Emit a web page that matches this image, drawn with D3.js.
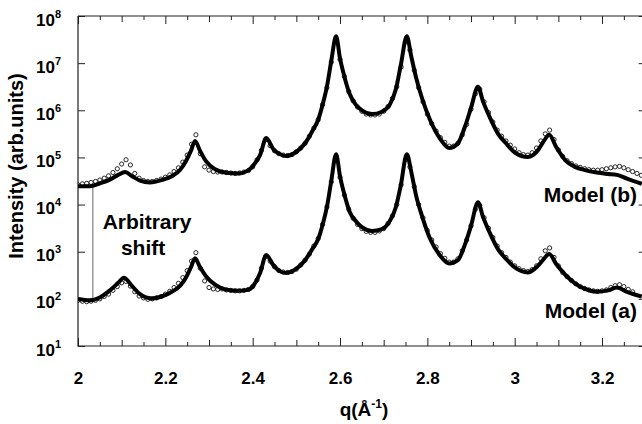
<!DOCTYPE html>
<html>
<head>
<meta charset="utf-8">
<script src="https://cdn.jsdelivr.net/npm/d3@7/dist/d3.min.js"></script>
<style>
  body { margin: 0; background: #fff; }
  text { font-family: "Liberation Sans", Arial, sans-serif; font-weight: bold; fill: #000; }
</style>
</head>
<body>
<div class="wrapper"></div>
<script>
// measured q values (Å^-1), one per data circle
var qData = [2.00,2.01,2.02,2.03,2.04,2.05,2.06,2.07,2.08,2.09,2.10,2.11,2.12,2.13,2.14,2.15,2.16,2.17,2.18,2.19,
  2.20,2.21,2.22,2.23,2.24,2.25,2.26,2.27,2.28,2.29,2.30,2.31,2.32,2.33,2.34,2.35,2.36,2.37,2.38,2.39,
  2.40,2.41,2.42,2.43,2.44,2.45,2.46,2.47,2.48,2.49,2.50,2.51,2.52,2.53,2.54,2.55,2.56,2.57,2.58,2.59,
  2.60,2.61,2.62,2.63,2.64,2.65,2.66,2.67,2.68,2.69,2.70,2.71,2.72,2.73,2.74,2.75,2.76,2.77,2.78,2.79,
  2.80,2.81,2.82,2.83,2.84,2.85,2.86,2.87,2.88,2.89,2.90,2.91,2.92,2.93,2.94,2.95,2.96,2.97,2.98,2.99,
  3.00,3.01,3.02,3.03,3.04,3.05,3.06,3.07,3.08,3.09,3.10,3.11,3.12,3.13,3.14,3.15,3.16,3.17,3.18,3.19,
  3.20,3.21,3.22,3.23,3.24,3.25,3.26,3.27,3.28,3.29];

// log10 of measured intensity, lower set (a), ends at q = 3.27
var logDataA = [1.97,1.95,1.94,1.95,1.97,2.00,2.05,2.10,2.18,2.26,2.34,2.37,2.27,2.15,2.06,2.02,1.99,2.00,2.02,2.05,
  2.10,2.16,2.24,2.33,2.45,2.60,2.80,2.98,2.65,2.38,2.24,2.21,2.20,2.21,2.19,2.18,2.17,2.17,2.18,2.20,
  2.26,2.40,2.65,2.90,2.80,2.68,2.60,2.57,2.56,2.58,2.63,2.72,2.82,2.95,3.12,3.28,3.58,3.95,4.48,5.00,
  4.58,4.20,3.90,3.71,3.58,3.49,3.43,3.41,3.41,3.44,3.49,3.60,3.76,4.00,4.42,4.95,4.80,4.38,4.00,3.72,
  3.45,3.25,3.10,2.96,2.86,2.78,2.78,2.85,3.02,3.25,3.55,3.90,3.98,3.72,3.50,3.30,3.12,2.98,2.88,2.78,
  2.70,2.64,2.60,2.58,2.62,2.70,2.85,3.02,3.08,2.88,2.70,2.56,2.47,2.39,2.32,2.26,2.22,2.19,2.17,2.16,
  2.17,2.19,2.24,2.28,2.30,2.26,2.20,2.15];

// log10 of measured intensity, shifted set (b)
var logDataB = [4.42,4.44,4.45,4.47,4.49,4.52,4.56,4.61,4.68,4.76,4.86,4.95,4.84,4.66,4.56,4.51,4.49,4.49,4.51,4.54,
  4.58,4.63,4.70,4.78,4.90,5.05,5.28,5.48,5.08,4.80,4.73,4.70,4.69,4.69,4.68,4.67,4.66,4.67,4.69,4.72,
  4.80,4.95,5.15,5.38,5.25,5.14,5.08,5.05,5.04,5.06,5.12,5.20,5.30,5.45,5.62,5.80,6.12,6.48,7.02,7.50,
  7.08,6.72,6.40,6.20,6.07,5.98,5.92,5.90,5.90,5.92,5.98,6.08,6.25,6.50,6.92,7.45,7.28,6.85,6.48,6.18,
  5.92,5.72,5.56,5.42,5.32,5.24,5.24,5.30,5.48,5.70,6.02,6.35,6.45,6.18,5.95,5.75,5.58,5.45,5.35,5.26,
  5.18,5.10,5.06,5.05,5.10,5.20,5.35,5.50,5.58,5.38,5.16,5.02,4.93,4.87,4.82,4.79,4.76,4.74,4.73,4.73,
  4.74,4.76,4.78,4.80,4.81,4.78,4.74,4.70,4.66,4.62];

// model (a) curve
var qModelA = [2.000,2.027,2.050,2.073,2.092,2.105,2.124,2.142,2.169,2.192,2.215,2.234,2.247,2.259,2.268,2.279,2.293,2.314,2.337,2.366,
  2.389,2.403,2.417,2.431,2.447,2.460,2.476,2.497,2.520,2.536,2.550,2.561,2.570,2.580,2.591,2.600,2.609,2.622,2.636,2.650,
  2.673,2.696,2.714,2.728,2.739,2.753,2.763,2.774,2.788,2.806,2.829,2.850,2.870,2.886,2.900,2.916,2.927,2.943,2.962,2.980,
  3.001,3.030,3.053,3.067,3.079,3.095,3.115,3.138,3.161,3.188,3.214,3.234,3.257,3.291];
var logModelA = [2.00,1.97,2.03,2.18,2.34,2.45,2.27,2.10,2.01,2.05,2.15,2.28,2.45,2.68,2.86,2.68,2.48,2.30,2.20,2.17,
  2.19,2.30,2.55,2.93,2.72,2.60,2.55,2.62,2.82,3.05,3.27,3.60,3.95,4.50,5.07,4.60,4.25,3.85,3.65,3.52,
  3.44,3.48,3.65,3.95,4.40,5.07,4.70,4.20,3.75,3.28,2.92,2.75,2.82,3.15,3.55,4.05,3.75,3.40,3.05,2.85,
  2.66,2.56,2.70,2.85,2.95,2.74,2.52,2.33,2.21,2.15,2.18,2.24,2.15,2.05];

// model (b) curve
var qModelB = [2.000,2.027,2.050,2.073,2.092,2.108,2.124,2.142,2.165,2.192,2.215,2.234,2.247,2.259,2.268,2.279,2.293,2.314,2.337,2.366,
  2.389,2.403,2.417,2.431,2.447,2.460,2.476,2.497,2.520,2.536,2.550,2.561,2.570,2.580,2.591,2.600,2.609,2.622,2.636,2.650,
  2.673,2.696,2.714,2.728,2.739,2.753,2.763,2.774,2.788,2.806,2.829,2.850,2.870,2.886,2.900,2.916,2.927,2.943,2.962,2.980,
  3.001,3.030,3.053,3.067,3.079,3.095,3.115,3.138,3.161,3.188,3.214,3.234,3.257,3.291];
var logModelB = [4.39,4.39,4.45,4.53,4.63,4.69,4.60,4.51,4.47,4.52,4.60,4.74,4.92,5.15,5.35,5.15,4.92,4.75,4.68,4.66,
  4.72,4.85,5.05,5.41,5.18,5.08,5.03,5.10,5.30,5.55,5.80,6.15,6.50,7.05,7.57,7.10,6.75,6.35,6.12,6.00,
  5.92,5.97,6.12,6.45,6.95,7.57,7.15,6.70,6.25,5.80,5.40,5.20,5.30,5.65,6.05,6.50,6.20,5.85,5.50,5.30,
  5.10,5.01,5.15,5.35,5.48,5.22,4.95,4.80,4.73,4.68,4.65,4.63,4.55,4.44];

var xTicks = [2, 2.2, 2.4, 2.6, 2.8, 3, 3.2];
var xTicksMid = [2.1, 2.3, 2.5, 2.7, 2.9, 3.1, 3.3];
var xTicksMinor = [2.05, 2.15, 2.25, 2.35, 2.45, 2.55, 2.65, 2.75, 2.85, 2.95, 3.05, 3.15, 3.25];
var yExponents = [1, 2, 3, 4, 5, 6, 7, 8];

// "Arbitrary shift" marker: q, lower and upper log10 intensity
var shiftQ = 2.034;
var shiftLog = [1.97, 4.40];

var W = 642, H = 424;
var x = d3.scaleLinear().domain([2, 3.3]).range([78, 645.7]);
var y = d3.scaleLog().domain([10, 1e8]).range([346, 16]);

var svg = d3.select(".wrapper").append("svg")
  .attr("width", W).attr("height", H);

function pts (qs, logs) {
  return logs.map(function (v, i) { return [qs[i], Math.pow(10, v)]; });
}

// ticks, inward on all four sides
function xAxisPair (vals, len) {
  svg.append("g").attr("transform", "translate(0,346)")
    .call(d3.axisBottom(x).tickValues(vals).tickSizeInner(-len).tickSizeOuter(0).tickFormat(""));
  svg.append("g").attr("transform", "translate(0,16)")
    .call(d3.axisTop(x).tickValues(vals).tickSizeInner(-len).tickSizeOuter(0).tickFormat(""));
}
xAxisPair(xTicksMinor, 4);
xAxisPair(xTicksMid, 6);

var bottom = svg.append("g").attr("transform", "translate(0,346)")
  .call(d3.axisBottom(x).tickValues(xTicks).tickSizeInner(-8).tickSizeOuter(0)
    .tickPadding(26).tickFormat(d3.format("~g")));
svg.append("g").attr("transform", "translate(0,16)")
  .call(d3.axisTop(x).tickValues(xTicks).tickSizeInner(-8).tickSizeOuter(0).tickFormat(""));
bottom.selectAll("text").attr("font-size", 17).attr("font-family", null);

var yVals = yExponents.map(function (e) { return Math.pow(10, e); });
var left = svg.append("g").attr("transform", "translate(78,0)")
  .call(d3.axisLeft(y).tickValues(yVals).tickSizeInner(-7).tickSizeOuter(0).tickFormat(""));
svg.append("g").attr("transform", "translate(645.7,0)")
  .call(d3.axisRight(y).tickValues(yVals).tickSizeInner(-7).tickSizeOuter(0).tickFormat(""));

var lab = left.selectAll(".tick").append("text")
  .attr("x", -42).attr("y", 9).attr("text-anchor", "start").attr("font-size", 17);
lab.append("tspan").text("10");
lab.append("tspan").attr("font-size", 11).attr("dy", -8).text(function (d) { return Math.round(Math.log10(d)); });

svg.selectAll(".domain").remove();
svg.selectAll(".tick line").attr("stroke", "#222");

// frame
svg.append("path")
  .attr("d", "M78,16H" + W + "M78,16V346H" + W)
  .attr("fill", "none").attr("stroke", "#222").attr("stroke-width", 1.2);

// axis titles
svg.append("text")
  .attr("transform", "translate(23,166) rotate(-90)")
  .attr("text-anchor", "middle").attr("font-size", 20)
  .text("Intensity (arb.units)");

var xt = svg.append("text").attr("x", 364).attr("y", 416)
  .attr("text-anchor", "middle").attr("font-size", 19);
xt.append("tspan").text("q(Å");
xt.append("tspan").attr("font-size", 12).attr("dy", -8).text("-1");
xt.append("tspan").attr("dy", 8).text(")");

// plot contents
svg.append("clipPath").attr("id", "clip")
  .append("rect").attr("x", 78).attr("y", 16).attr("width", 568).attr("height", 330);
var plot = svg.append("g").attr("clip-path", "url(#clip)");

var line = d3.line()
  .x(function (d) { return x(d[0]); })
  .y(function (d) { return y(d[1]); })
  .curve(d3.curveMonotoneX);

// arbitrary shift marker
plot.append("line")
  .attr("x1", x(shiftQ)).attr("x2", x(shiftQ))
  .attr("y1", y(Math.pow(10, shiftLog[0]))).attr("y2", y(Math.pow(10, shiftLog[1])))
  .attr("stroke", "#666").attr("stroke-width", 1);

[pts(qData, logDataA), pts(qData, logDataB)].forEach(function (set) {
  plot.append("g").selectAll("circle").data(set).enter().append("circle")
    .attr("cx", function (d) { return x(d[0]); })
    .attr("cy", function (d) { return y(d[1]); })
    .attr("r", 2.1)
    .attr("fill", "none").attr("stroke", "#111").attr("stroke-width", 0.9);
});

[pts(qModelA, logModelA), pts(qModelB, logModelB)].forEach(function (set) {
  plot.append("path").datum(set).attr("d", line)
    .attr("fill", "none").attr("stroke", "#000")
    .attr("stroke-width", 4).attr("stroke-linejoin", "round");
});

// annotations
function note (q, lg, str, anchor) {
  svg.append("text").attr("x", x(q)).attr("y", y(Math.pow(10, lg)))
    .attr("text-anchor", anchor).attr("font-size", 21).text(str);
}
note(2.158, 3.48, "Arbitrary", "middle");
note(2.149, 2.93, "shift", "middle");
note(3.280, 4.05, "Model (b)", "end");
note(3.280, 1.59, "Model (a)", "end");
</script>
</body>
</html>
